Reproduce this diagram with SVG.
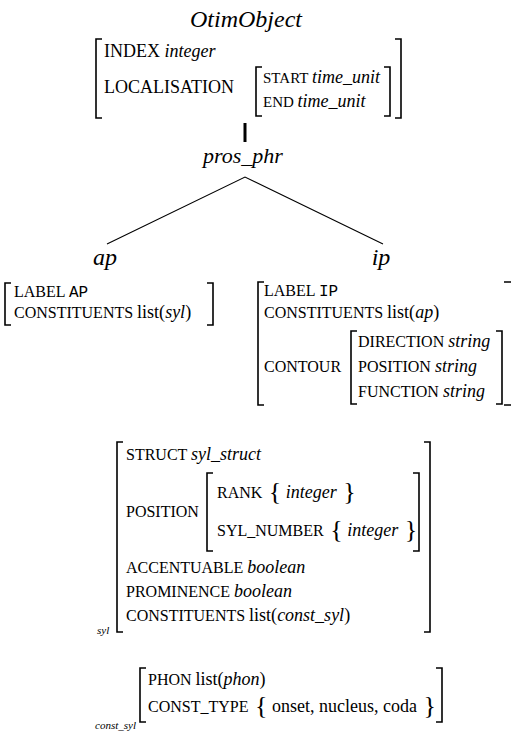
<svg xmlns="http://www.w3.org/2000/svg" width="513" height="737" viewBox="0 0 513 737" font-family="'Liberation Serif','Times New Roman','DejaVu Serif',serif">
<style>
text{font-family:'Liberation Serif','Times New Roman','DejaVu Serif',serif;fill:#000}
.t{font-size:24px;font-style:italic}
.k{font-size:18px}
.f{font-size:16px}
.g{font-size:15px}
.v{font-size:18px;font-style:italic}
.r{font-size:18px;font-style:normal}
.m{font-family:'Liberation Mono','Courier New',monospace;font-size:16px}
.br{font-size:26px;font-style:normal}
.sub{font-size:11px;font-style:italic}
.b{fill:none;stroke:#000;stroke-width:1.6}
.c{fill:none;stroke:#000;stroke-width:1.1}
</style>
<rect width="513" height="737" fill="#fff"/>
<g id="otim">
<text class="t" x="246" y="27" text-anchor="middle">OtimObject</text>
<path class="b" d="M102,39H96V118H102M395,39H401V118H395"/>
<text class="k" x="104" y="57">INDEX <tspan class="v">integer</tspan></text>
<text class="k" x="104" y="93">LOCALISATION</text>
<path class="b" d="M262,67H256V116H262M384,67H390V116H384"/>
<text class="g" x="263" y="83">START <tspan class="v">time_unit</tspan></text>
<text class="g" x="263" y="107">END <tspan class="v">time_unit</tspan></text>
</g>
<g id="pros_phr">
<text class="t" style="font-size:22px" x="243" y="163" text-anchor="middle">pros_phr</text>
</g>
<g id="connectors">
<rect x="243.5" y="123" width="3" height="19" fill="#000"/>
<path class="c" d="M107,244L245,177L383,244"/>
</g>
<g id="ap">
<text class="t" x="105" y="265" text-anchor="middle">ap</text>
<path class="b" d="M11,283H5V325H11M207,283H213V325H207"/>
<text class="f" x="14" y="297">LABEL <tspan class="m">AP</tspan></text>
<text class="f" x="14" y="318">CONSTITUENTS <tspan class="r">list(</tspan><tspan class="v">syl</tspan><tspan class="r">)</tspan></text>
</g>
<g id="ip">
<text class="t" x="381" y="265" text-anchor="middle">ip</text>
<path class="b" d="M264,282H258V405H264M504,282H511M504,405H511"/>
<text class="f" x="264" y="296">LABEL <tspan class="m">IP</tspan></text>
<text class="f" x="264" y="318">CONSTITUENTS <tspan class="r">list(</tspan><tspan class="v">ap</tspan><tspan class="r">)</tspan></text>
<text class="f" x="264" y="372">CONTOUR</text>
<path class="b" d="M357,331H351V404H357M496,331H502V404H496"/>
<text class="f" x="358" y="347">DIRECTION <tspan class="v">string</tspan></text>
<text class="f" x="358" y="372">POSITION <tspan class="v">string</tspan></text>
<text class="f" x="358" y="397">FUNCTION <tspan class="v">string</tspan></text>
</g>
<g id="syl">
<path class="b" d="M123,442H117V632H123M424,442H430V632H424"/>
<text class="sub" x="97" y="634">syl</text>
<text class="f" x="126" y="460">STRUCT <tspan class="v">syl_struct</tspan></text>
<text class="f" x="126" y="517">POSITION</text>
<path class="b" d="M213,473H207V551H213M413,473H419V551H413"/>
<text class="f" x="217" y="498">RANK<tspan class="br" dy="2"> {</tspan><tspan class="v" dy="-2"> integer</tspan><tspan class="br" dy="2"> }</tspan></text>
<text class="f" x="217" y="536">SYL_NUMBER<tspan class="br" dy="2"> {</tspan><tspan class="v" dy="-2"> integer</tspan><tspan class="br" dy="2"> }</tspan></text>
<text class="f" x="126" y="573">ACCENTUABLE <tspan class="v">boolean</tspan></text>
<text class="f" x="126" y="597">PROMINENCE <tspan class="v">boolean</tspan></text>
<text class="f" x="126" y="621">CONSTITUENTS <tspan class="r">list(</tspan><tspan class="v">const_syl</tspan><tspan class="r">)</tspan></text>
</g>
<g id="const_syl">
<path class="b" d="M146,668H140V722H146M436,668H442V722H436"/>
<text class="sub" x="136" y="729" text-anchor="end">const_syl</text>
<text class="f" x="148" y="685">PHON <tspan class="r">list(</tspan><tspan class="v">phon</tspan><tspan class="r">)</tspan></text>
<text class="f" x="148" y="712">CONST_TYPE<tspan class="br" dy="2"> {</tspan><tspan class="r" dy="-2"> onset, nucleus, coda</tspan><tspan class="br" dy="2"> }</tspan></text>
</g>
</svg>
